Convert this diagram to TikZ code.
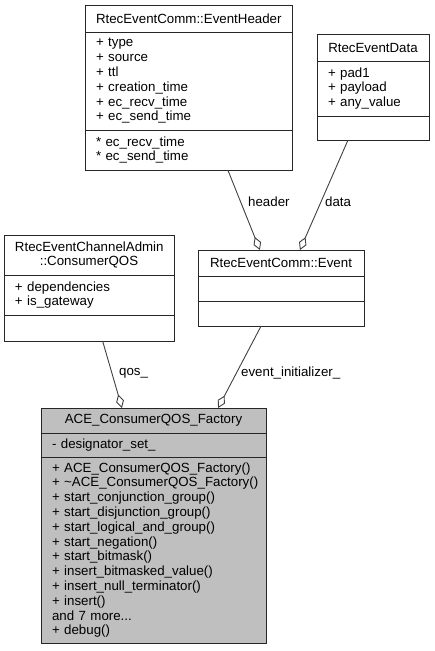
\documentclass[tikz,border=0pt]{standalone}
\usepackage{fontspec}
\setmainfont{Liberation Sans}
\usetikzlibrary{positioning, arrows.meta, calc}
\definecolor{edgecolor}{RGB}{64,64,64}
\definecolor{factcolor}{RGB}{191,191,191}

\begin{document}
\begin{tikzpicture}[x=1pt, y=-1pt,
    box/.style={draw=black!85, line width=1pt, fill=white, inner xsep=11pt, inner ysep=0pt, outer sep=0pt, font=\fontsize{13.3}{14.8}\selectfont},
    head/.style={box, align=center, anchor=north west},
    part/.style={box, align=left},
    agg/.style={draw=edgecolor, line width=0.9pt, -{Diamond[open, length=14pt, width=8pt]}},
    lbl/.style={font=\fontsize{13.3}{14.8}\selectfont, inner sep=0pt, anchor=west}]
    \useasboundingbox (0,0) rectangle (435,651);

    % Classe RtecEventComm::EventHeader
    \node[head, text width=185pt, minimum height=27pt] (hdrt) at (85,5) {RtecEventComm::EventHeader};
    \node[part, text width=185pt, minimum height=98pt, below=0pt of hdrt] (hdra) {+ type\\+ source\\+ ttl\\+ creation\_time\\+ ec\_recv\_time\\+ ec\_send\_time};
    \node[part, text width=185pt, minimum height=40pt, below=0pt of hdra] (hdro) {{*} ec\_recv\_time\\{*} ec\_send\_time};

    % Classe RtecEventData
    \node[head, text width=90pt, minimum height=27pt] (datt) at (317,34) {RtecEventData};
    \node[part, text width=90pt, minimum height=55pt, below=0pt of datt] (data) {+ pad1\\+ payload\\+ any\_value};
    \node[part, text width=90pt, minimum height=24pt, below=0pt of data] (dato) {};

    % Classe RtecEventChannelAdmin::ConsumerQOS
    \node[head, text width=148pt, minimum height=40pt] (qost) at (4,235) {RtecEventChannelAdmin\\::ConsumerQOS};
    \node[part, text width=148pt, minimum height=40pt, below=0pt of qost] (qosa) {+ dependencies\\+ is\_gateway};
    \node[part, text width=148pt, minimum height=26pt, below=0pt of qosa] (qoso) {};

    % Classe RtecEventComm::Event
    \node[head, text width=144pt, minimum height=26pt] (evtt) at (198,250) {RtecEventComm::Event};
    \node[part, text width=144pt, minimum height=25pt, below=0pt of evtt] (evta) {};
    \node[part, text width=144pt, minimum height=25pt, below=0pt of evta] (evto) {};

    % Classe ACE_ConsumerQOS_Factory
    \node[head, fill=factcolor, text width=203pt, minimum height=25pt] (fact) at (41,408) {ACE\_ConsumerQOS\_Factory};
    \node[part, fill=factcolor, text width=203pt, minimum height=24pt, below=0pt of fact] (faca) {- designator\_set\_};
    \node[part, fill=factcolor, text width=203pt, minimum height=186pt, below=0pt of faca] (faco) {+ ACE\_ConsumerQOS\_Factory()\\\mbox{+ \textasciitilde ACE\_ConsumerQOS\_Factory()}\\+ start\_conjunction\_group()\\+ start\_disjunction\_group()\\+ start\_logical\_and\_group()\\+ start\_negation()\\+ start\_bitmask()\\+ insert\_bitmasked\_value()\\+ insert\_null\_terminator()\\+ insert()\\and 7 more...\\+ debug()};

    % Agrégations
    \draw[agg] ($(hdro.south west)!0.69!(hdro.south east)$) -- ($(evtt.north west)!0.373!(evtt.north east)$);
    \node[lbl] (lhdr) at (248,202) {header};
    \draw[agg] ($(dato.south west)!0.277!(dato.south east)$) -- ($(evtt.north west)!0.614!(evtt.north east)$);
    \node[lbl] (ldat) at (325,202) {data};
    \draw[agg] ($(qoso.south west)!0.58!(qoso.south east)$) -- ($(fact.north west)!0.36!(fact.north east)$);
    \node[lbl] (lqos) at (119,373) {qos\_};
    \draw[agg] ($(evto.south west)!0.38!(evto.south east)$) -- ($(fact.north west)!0.787!(fact.north east)$);
    \node[lbl] (levt) at (241,373) {event\_initializer\_};
\end{tikzpicture}
\end{document}
